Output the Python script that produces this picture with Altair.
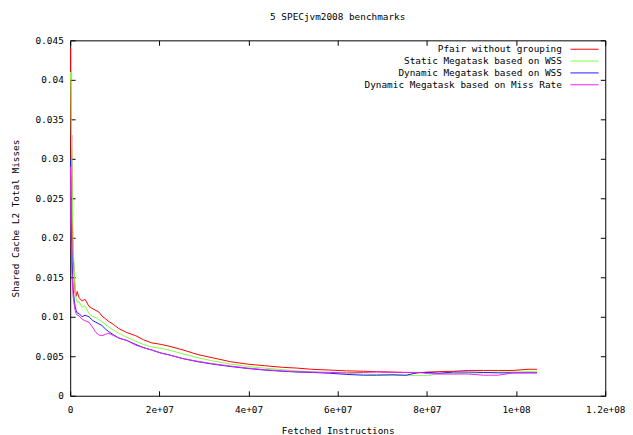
import altair as alt
import pandas as pd

# x positions in millions of fetched instructions
x_m = [0.07, 0.13, 0.22, 0.33, 0.44, 0.56, 0.67, 0.89, 1.11, 1.33, 1.56, 2.0, 2.67, 3.33,
       4.22, 5.11, 5.78, 6.44, 7.11, 8.0, 8.67, 9.78, 10.9, 12.7, 14.7, 16.4, 18.2, 20.4,
       22.0, 25.3, 28.7, 32.0, 36.0, 39.8, 43.6, 47.6, 50.9, 54.2, 58.2, 62.0, 65.8, 68.7,
       72.4, 75.3, 78.2, 80.4, 82.7, 86.0, 89.3, 92.7, 96.0, 99.3, 102.7, 104.7]

# misses (x 1e-3)
pfair = [44.0, 36.0, 30.0, 33.0, 24.0, 20.5, 17.5, 15.5, 13.0, 12.6, 13.2, 12.4, 12.0, 12.2,
         11.3, 11.0, 10.8, 10.6, 10.1, 9.7, 9.4, 9.0, 8.5, 8.0, 7.6, 7.1, 6.7, 6.5,
         6.3, 5.8, 5.2, 4.8, 4.3, 4.0, 3.8, 3.6, 3.5, 3.35, 3.25, 3.15, 3.1, 3.05,
         3.0, 2.95, 2.9, 3.0, 3.05, 3.1, 3.2, 3.2, 3.2, 3.2, 3.35, 3.35]
static_wss = [40.0, 41.0, 35.0, 31.0, 27.0, 22.0, 19.5, 16.0, 13.5, 12.3, 11.8, 11.9, 11.2, 11.4,
              10.4, 10.0, 9.9, 9.6, 9.4, 9.0, 8.7, 8.3, 7.9, 7.4, 6.9, 6.5, 6.2, 6.0,
              5.8, 5.3, 4.8, 4.4, 4.0, 3.7, 3.5, 3.3, 3.15, 3.0, 2.95, 2.85, 2.75, 2.7,
              2.6, 2.55, 2.55, 2.55, 2.8, 2.8, 2.85, 2.9, 3.0, 3.0, 3.05, 3.1]
dyn_wss = [30.0, 26.0, 22.0, 19.0, 17.0, 15.0, 13.5, 12.2, 11.3, 10.8, 10.5, 10.4, 10.0, 10.2,
           10.0, 9.5, 9.3, 9.1, 8.9, 8.4, 8.1, 7.7, 7.3, 7.0, 6.5, 6.1, 5.8, 5.4,
           5.2, 4.7, 4.3, 4.0, 3.7, 3.45, 3.25, 3.1, 3.0, 2.95, 2.85, 2.7, 2.6, 2.6,
           2.65, 2.6, 2.95, 2.95, 2.85, 3.0, 3.0, 2.95, 2.9, 2.9, 2.9, 2.9]
dyn_miss = [29.0, 22.0, 19.0, 16.5, 15.0, 13.5, 12.5, 11.6, 10.8, 10.4, 10.2, 10.1, 9.7, 9.5,
            9.3, 8.6, 8.0, 7.7, 7.6, 7.8, 7.9, 7.6, 7.3, 7.0, 6.4, 6.1, 5.8, 5.4,
            5.2, 4.7, 4.35, 4.05, 3.75, 3.5, 3.3, 3.15, 3.05, 3.0, 2.95, 2.9, 2.95, 3.0,
            2.95, 2.95, 2.95, 2.8, 2.75, 2.75, 2.75, 2.6, 2.6, 2.9, 2.9, 2.9]

series_names = ["Pfair without grouping", "Static Megatask based on WSS",
                "Dynamic Megatask based on WSS", "Dynamic Megatask based on Miss Rate"]
series_colors = ["#ff0000", "#7fff3f", "#1a1aff", "#ee22ee"]
series_vals = [pfair, static_wss, dyn_wss, dyn_miss]

y_ticks = [0, 0.005, 0.01, 0.015, 0.02, 0.025, 0.03, 0.035, 0.04, 0.045]
x_ticks = [0, 2e7, 4e7, 6e7, 8e7, 1e8, 1.2e8]

rows = []
for name, vals in zip(series_names, series_vals):
    for i, (xv, yv) in enumerate(zip(x_m, vals)):
        rows.append({"series": name, "x": xv * 1e6, "y": yv * 1e-3, "i": i})
df = pd.DataFrame(rows)

FONT = "DejaVu Sans Mono"
FS = 9.5

x_label_expr = ("datum.value == 0 ? '0' : format(datum.value / pow(10, floor(log(datum.value)/LN10 + 1e-9)), '~g')"
                " + 'e+0' + floor(log(datum.value)/LN10 + 1e-9)")
y_label_expr = "format(datum.value, '~g')"

xscale = alt.Scale(domain=[0, 1.2e8], nice=False, zero=False)
yscale = alt.Scale(domain=[0, 0.045], nice=False, zero=False)

base = alt.Chart(df)

lines = base.mark_line(strokeWidth=1).encode(
    x=alt.X("x:Q", scale=xscale,
            axis=alt.Axis(title="Fetched Instructions", values=x_ticks, labelExpr=x_label_expr,
                          orient="bottom", offset=-5, tickSize=5, domain=False, grid=False,
                          labelPadding=9, titlePadding=12, labelFlush=False,
                          tickColor="black", labelColor="black", titleColor="black",
                          labelFont=FONT, titleFont=FONT, labelFontSize=FS, titleFontSize=FS,
                          titleFontWeight="normal")),
    y=alt.Y("y:Q", scale=yscale,
            axis=alt.Axis(title="Shared Cache L2 Total Misses", values=y_ticks, labelExpr=y_label_expr,
                          orient="left", offset=-5, tickSize=5, domain=False, grid=False,
                          labelPadding=7, titlePadding=15, labelFlush=False,
                          tickColor="black", labelColor="black", titleColor="black",
                          labelFont=FONT, titleFont=FONT, labelFontSize=FS, titleFontSize=FS,
                          titleFontWeight="normal")),
    color=alt.Color("series:N",
                    scale=alt.Scale(domain=series_names, range=series_colors),
                    legend=alt.Legend(title=None, orient="none", legendX=514, legendY=2,
                                      direction="vertical", symbolType="M-2.2,0H2.2",
                                      symbolSize=169, symbolStrokeWidth=1,
                                      labelAlign="right", labelOffset={"expr": "-30"},
                                      labelFont=FONT, labelFontSize=FS, labelColor="black",
                                      rowPadding=0, padding=0, labelLimit=400)),
    order="i:Q",
)

mirror = base.mark_line(opacity=0).encode(
    x=alt.X("x:Q", scale=xscale,
            axis=alt.Axis(title=None, values=x_ticks, labels=False, orient="top", offset=-5,
                          tickSize=5, domain=False, grid=False, tickColor="black")),
    y=alt.Y("y:Q", scale=yscale,
            axis=alt.Axis(title=None, values=y_ticks, labels=False, orient="right", offset=-5,
                          tickSize=5, domain=False, grid=False, tickColor="black")),
    detail="series:N",
)

chart = alt.layer(lines, mirror).resolve_axis(x="independent", y="independent").properties(
    width=542, height=360,
    autosize=alt.AutoSizeParams(type="none"),
    padding={"left": 63, "top": 30, "right": 20, "bottom": 37},
    title=alt.TitleParams("5 SPECjvm2008 benchmarks", font=FONT, fontSize=FS, fontWeight="normal",
                          anchor="middle", offset=14, color="black"),
    background="white",
).configure_view(stroke="black", strokeWidth=1)

chart.save("out.html", embed_options={"renderer": "svg", "actions": False})
